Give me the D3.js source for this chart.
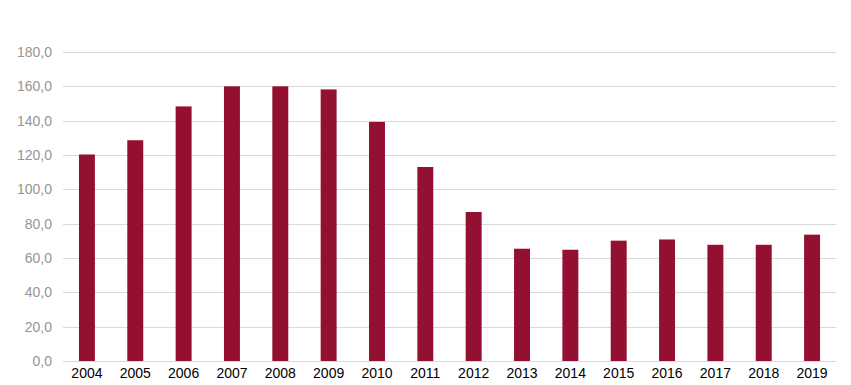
<!DOCTYPE html>
<html>
<head>
<meta charset="utf-8">
<script src="https://cdn.jsdelivr.net/npm/d3@7"></script>
<style>
  body { margin: 0; background: #fff; }
  text { font-family: "Liberation Sans", Arial, sans-serif; }
</style>
</head>
<body>
<div id="chart"></div>
<script>
var years = ["2004","2005","2006","2007","2008","2009","2010","2011","2012","2013","2014","2015","2016","2017","2018","2019"];
var values = [120.3, 128.6, 148.3, 160.0, 160.0, 158.2, 139.3, 113.0, 86.8, 65.4, 64.8, 70.1, 70.8, 67.7, 67.7, 73.6];
var yTicks = [0, 20, 40, 60, 80, 100, 120, 140, 160, 180];

var margin = {top: 52, right: 15, bottom: 24, left: 63},
    width = 851 - margin.left - margin.right,
    height = 385 - margin.top - margin.bottom;

var svg = d3.select("#chart").append("svg")
  .attr("width", 851)
  .attr("height", 385);
var chartArea = svg.append("g")
  .attr("transform", "translate(" + margin.left + "," + margin.top + ")");

var xScale = d3.scaleBand().domain(years).range([0, width]).paddingInner(0.67).paddingOuter(0.33);
var yScale = d3.scaleLinear().domain([0, 180]).range([height, 0]);

// gridlines
chartArea.selectAll(".grid")
  .data(yTicks)
  .enter().append("line")
  .attr("x1", 0)
  .attr("x2", width)
  .attr("y1", function(d) { return Math.round(yScale(d)) + 0.5; })
  .attr("y2", function(d) { return Math.round(yScale(d)) + 0.5; })
  .attr("stroke", "#d9d9d9")
  .attr("stroke-width", 1);

// y tick labels
var yAxis = d3.axisLeft(yScale).tickValues(yTicks)
  .tickFormat(function(d) { return d3.format(".1f")(d).replace(".", ","); })
  .tickSize(0).tickPadding(11);
var yAxisG = chartArea.append("g").call(yAxis);
yAxisG.select(".domain").remove();
yAxisG.selectAll("text").attr("fill", "#959595").attr("font-size", 14);

// bars
chartArea.selectAll(".bar")
  .data(values)
  .enter().append("rect")
  .attr("class", "bar")
  .attr("x", function(d, i) { return xScale(years[i]); })
  .attr("width", xScale.bandwidth())
  .attr("y", function(d) { return yScale(d); })
  .attr("height", function(d) { return height - yScale(d); })
  .attr("fill", "#941031");

// x axis
var xAxis = d3.axisBottom(xScale).tickSize(0).tickPadding(7);
var xAxisG = chartArea.append("g")
  .attr("transform", "translate(0," + height + ")")
  .call(xAxis);
xAxisG.select(".domain").attr("stroke", "#d9d9d9");
xAxisG.selectAll("text").attr("fill", "#000").attr("font-size", 14);
</script>
</body>
</html>
